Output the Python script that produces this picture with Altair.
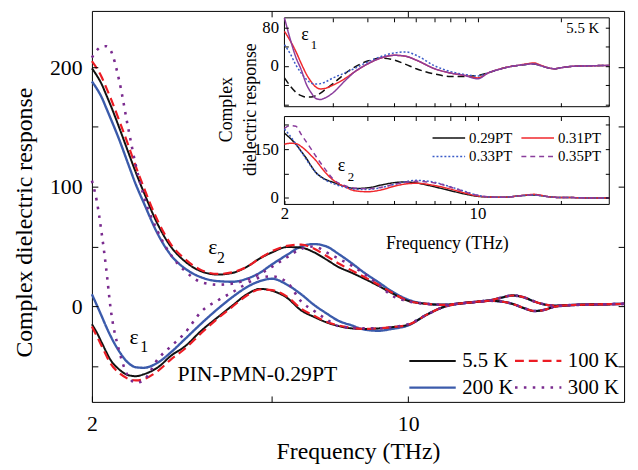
import altair as alt
import pandas as pd

FONT = "Liberation Serif, Times New Roman, Times, DejaVu Serif, serif"

# ---------------- main panel (PIN-PMN-0.29PT, four temperatures) ----------------
F_MAIN = [2.0, 2.05, 2.1, 2.15, 2.2, 2.3, 2.4, 2.5, 2.6, 2.8, 3.0, 3.2, 3.5, 3.8,
          4.1, 4.4, 4.7, 5.0, 5.4, 5.8, 6.2, 6.6, 7.0, 7.5, 8.0, 8.6, 9.2, 10.0]
F_TAIL = [11, 12, 13, 14, 15, 16, 17, 18, 19, 20, 21, 23, 26, 30]

TEMPS = ["5.5 K", "100 K", "200 K", "300 K"]

E2_5K = [199, 193, 186, 177, 168, 149, 130, 112, 96, 68, 49, 38, 29, 26.5,
         28, 33, 40, 45, 49.5, 49, 45, 39, 33, 28, 23, 17, 11, 4.5]
E1_5K = [-15, -22, -30, -38, -45, -53, -57.5, -58.5, -57, -51, -41, -34, -20, -9,
         1, 10, 14.5, 13, 7, -3.5, -9, -13.5, -16.5, -18.5, -19, -18.5, -17.5, -15.5]
E2_100K = [205, 199, 192, 183, 174, 155, 136, 117, 100, 71, 51, 40, 30, 27,
           28.5, 33, 40, 46, 50.5, 51.5, 48, 42, 36, 30, 24.5, 18, 11.5, 4.5]
E1_100K = [-17, -25, -33, -41, -48, -56, -60.5, -62, -61, -54, -44, -36, -22, -10,
           0, 9, 14, 13.5, 8, -2, -8, -13, -16, -18, -19, -18.5, -17.5, -15.5]
E2_200K = [188, 182, 175, 166, 157, 139, 120, 102, 87, 60, 42, 32, 24, 21,
           20.5, 23, 28, 35, 43, 50, 52, 50, 44, 36, 28, 20, 12.5, 5.5]
E1_200K = [10, 1, -8, -17, -25, -38, -47, -51, -51.5, -47, -38, -28, -14, -2,
           8, 16, 21, 23, 18, 10, 1, -6, -12, -16, -19.5, -20.5, -19, -16]
E2_300K = [208, 214, 217, 217.5, 214, 188, 151, 118, 93, 62, 42, 30, 20, 18,
           19, 22, 27, 33, 41, 48, 50, 45, 40, 34, 27, 18, 9, 4]
E1_300K = [105, 88, 62, 32, -2, -38, -58, -64, -62, -44, -33, -23, -4, 5,
           12, 19, 24, 25, 20, 4, -4, -11, -16.5, -18, -18.5, -18.5, -17.5, -15]

# above 10 THz all temperatures overlap
TAIL_E2 = [2, 1.2, 2.3, 3.5, 4.6, 7, 9, 7.5, 4, 1.5, 0.5, 1, 1.5, 2]
TAIL_E1 = [-7, -0.5, 2.3, 3.5, 4.6, 4, 2, -1.5, -4, -3, -0.5, 1, 1.5, 2]

MAIN_E2 = {"5.5 K": E2_5K, "100 K": E2_100K, "200 K": E2_200K, "300 K": E2_300K}
MAIN_E1 = {"5.5 K": E1_5K, "100 K": E1_100K, "200 K": E1_200K, "300 K": E1_300K}

# ---------------- inset (5.5 K, four compositions) ----------------
F_INSET = [2.0, 2.1, 2.2, 2.3, 2.4, 2.5, 2.6, 2.7, 2.8, 3.0, 3.3, 3.6, 4.0, 4.5,
           5.0, 5.5, 6.0, 7.0, 8.0, 9.0, 10]
F_INSET_TAIL = [11, 12, 13, 14, 15, 16, 17, 18, 19, 20, 22, 25, 30]
COMPS = ["0.29PT", "0.31PT", "0.33PT", "0.35PT"]

UP_29 = [-25, -42, -55, -62, -65, -65, -62, -57, -50, -37, -17, -2, 10, 16, 12, 3, -6, -17, -22, -22, -20]
UP_31 = [72, 52, 30, 5, -17, -33, -44, -48, -47, -40, -27, -12, 4, 17, 22, 20, 12, -6, -15, -20, -25]
UP_33 = [44, 25, 2, -15, -28, -36, -38, -37, -34, -25, -15, -5, 8, 20, 27, 29, 22, 0, -12, -18, -21]
UP_35 = [100, 55, 18, -8, -38, -56, -68, -70, -67, -56, -32, -12, 4, 17, 22, 20, 12, -6, -15, -20, -27]
UP_TAIL = [-14, -7, -2, 1, 3, 4, 0, -4, -6, -4, -1, 0, 1]
UP_TAIL_31 = [-14, -7, -2, 1, 4, 6, 1, -4, -6, -4, -1, 0, 1]

LO_29 = [199, 183, 165, 143, 122, 98, 78, 66, 58, 48, 36, 29, 31, 40, 47, 49, 46, 34, 22, 12, 5]
LO_31 = [165, 168, 167, 158, 145, 130, 115, 97, 80, 55, 35, 22, 19, 25, 36, 43, 45, 38, 27, 15, 6]
LO_33 = [212, 190, 166, 142, 118, 96, 78, 65, 56, 44, 33, 27, 26, 32, 42, 50, 54, 48, 34, 20, 8]
LO_35 = [214, 222, 220, 195, 172, 150, 128, 108, 90, 58, 38, 30, 28, 33, 42, 48, 51, 46, 33, 19, 8]
LO_TAIL = [3, 2, 3, 6, 8, 9, 7, 4, 2, 1, 1, 0, 0]
LO_TAIL_31 = [3, 2, 3, 6, 9, 11, 8, 4, 2, 1, 1, 0, 0]

INSET_UP = {"0.29PT": UP_29 + UP_TAIL, "0.31PT": UP_31 + UP_TAIL_31,
            "0.33PT": UP_33 + UP_TAIL, "0.35PT": UP_35 + UP_TAIL}
INSET_LO = {"0.29PT": LO_29 + LO_TAIL, "0.31PT": LO_31 + LO_TAIL_31,
            "0.33PT": LO_33 + LO_TAIL, "0.35PT": LO_35 + LO_TAIL}

# ---------------- axes domains ----------------
X_DOMAIN = [2, 30]
MAIN_Y_DOMAIN = [-80, 247]
UP_Y_DOMAIN = [-85, 100]
LO_Y_DOMAIN = [-20, 250]

# ---------------- build tables ----------------
rows = []
for t in ["200 K", "5.5 K", "100 K", "300 K"]:
    for part, table, tail in (("e2", MAIN_E2, TAIL_E2), ("e1", MAIN_E1, TAIL_E1)):
        for f, v in zip(F_MAIN + F_TAIL, table[t] + tail):
            rows.append({"f": f, "v": v, "temp": t, "part": part})
main_df = pd.DataFrame(rows)

F_IN = F_INSET + F_INSET_TAIL
up_df = pd.DataFrame([{"f": f, "v": v, "comp": c} for c in COMPS for f, v in zip(F_IN, INSET_UP[c])])
lo_df = pd.DataFrame([{"f": f, "v": v, "comp": c} for c in COMPS for f, v in zip(F_IN, INSET_LO[c])])

W, H = 539, 396
IN_X_RANGE = [195, 524]
UP_Y_RANGE = [97, 7]
LO_Y_RANGE = [196, 107]


def ax(**kw):
    base = dict(grid=False, domain=False, tickColor="black", tickWidth=1,
                labelColor="black", labelFont=FONT, titleFont=FONT,
                titleColor="black", titleFontWeight="normal",
                labelFlush=False, labelOverlap=False, zindex=1)
    base.update(kw)
    return alt.Axis(**base)


def MX():
    return alt.Scale(type="log", domain=X_DOMAIN, nice=False)


def MY():
    return alt.Scale(domain=MAIN_Y_DOMAIN, nice=False, zero=False)


def IX():
    return alt.Scale(type="log", domain=X_DOMAIN, range=IN_X_RANGE, nice=False)


def IUY():
    return alt.Scale(domain=UP_Y_DOMAIN, range=UP_Y_RANGE, nice=False, zero=False)


def ILY():
    return alt.Scale(domain=LO_Y_DOMAIN, range=LO_Y_RANGE, nice=False, zero=False)


MAIN_COLORS = ["#111111", "#ec1c24", "#3b5bab", "#7a2b8f"]
INSET_COLORS = ["#111111", "#f0282d", "#3a5bc8", "#8a3d9c"]

MAIN_LEG = alt.Legend(title=None, orient="none", legendX=320, legendY=344, columns=2,
                      direction="horizontal",
                      symbolType="stroke", symbolSize=2209, labelFont=FONT, labelFontSize=21,
                      labelColor="black", clipHeight=21, rowPadding=5, columnPadding=0,
                      labelOffset=5, padding=0)

main_lines = alt.Chart(main_df).mark_line(interpolate="monotone").encode(
    x=alt.X("f:Q", scale=MX(), axis=ax(orient="bottom", values=[2, 5, 10], format="~g",
                                        labelExpr="datum.value == 5 ? '' : datum.label",
                                        offset=-6, tickSize=6, labelPadding=12, labelFontSize=22,
                                        title="Frequency (THz)", titleFontSize=24, titlePadding=5)),
    y=alt.Y("v:Q", scale=MY(), axis=ax(orient="left", values=[-50, 0, 50, 100, 150, 200],
                                        labelExpr="datum.value % 100 == 0 ? datum.label : ''",
                                        offset=-6, tickSize=6, labelPadding=10, labelFontSize=22,
                                        title="Complex dielectric response", titleFontSize=24,
                                        titlePadding=13, titleY=214)),
    color=alt.Color("temp:O", scale=alt.Scale(domain=TEMPS, range=MAIN_COLORS), legend=MAIN_LEG),
    strokeDash=alt.StrokeDash("temp:O", scale=alt.Scale(domain=TEMPS, range=[[1, 0], [9, 5], [1, 0], [2.6, 6.4]]),
                              legend=MAIN_LEG),
    strokeWidth=alt.StrokeWidth("temp:O", scale=alt.Scale(domain=TEMPS, range=[2, 2.6, 2, 3]),
                                legend=MAIN_LEG),
    detail="part:N",
)

frame_df = pd.DataFrame({"f": [X_DOMAIN[0]], "v": [0]})
main_frame = alt.Chart(frame_df).mark_point(opacity=0).encode(
    x=alt.X("f:Q", scale=MX(), axis=ax(orient="top", values=[5, 10], labels=False,
                                        offset=-6, tickSize=6, title=None)),
    y=alt.Y("v:Q", scale=MY(), axis=ax(orient="right", values=[-50, 0, 50, 100, 150, 200],
                                        labels=False, offset=-6, tickSize=6, title=None)),
)

IXT = [3, 4, 5, 6, 7, 8, 9, 10, 20]
IXT_L = [2, 3, 4, 5, 6, 7, 8, 9, 10, 20]
UP_T = [-80, -40, 0, 40, 80]
LO_T = [0, 75, 150, 225]

up_box_df = pd.DataFrame({"x0": [X_DOMAIN[0]], "x1": [X_DOMAIN[1]],
                          "y0": [UP_Y_DOMAIN[0]], "y1": [UP_Y_DOMAIN[1]]})
lo_box_df = pd.DataFrame({"x0": [X_DOMAIN[0]], "x1": [X_DOMAIN[1]],
                          "y0": [LO_Y_DOMAIN[0]], "y1": [LO_Y_DOMAIN[1]]})

up_box = alt.Chart(up_box_df).mark_rect(fill="white", stroke="black", strokeWidth=1).encode(
    x=alt.X("x0:Q", scale=IX(), axis=ax(orient="top", values=IXT, labels=False, offset=-11,
                                         tickSize=4, title=None)),
    x2="x1:Q",
    y=alt.Y("y0:Q", scale=IUY(), axis=ax(orient="right", values=UP_T, labels=False,
                                          offset=-(W - IN_X_RANGE[1]) - 4, tickSize=4, title=None)),
    y2="y1:Q",
)

up_lines = alt.Chart(up_df).mark_line(interpolate="monotone", strokeWidth=1.5).encode(
    x=alt.X("f:Q", scale=IX(), axis=ax(orient="bottom", values=IXT, labels=False,
                                        offset=-(H - UP_Y_RANGE[0]) - 4, tickSize=4, title=None)),
    y=alt.Y("v:Q", scale=IUY(), axis=ax(orient="left", values=UP_T,
                                         labelExpr="(datum.value == 0 || datum.value == 80) ? datum.label : ''",
                                         offset=-IN_X_RANGE[0] - 4, tickSize=4, labelPadding=6,
                                         labelFontSize=17, title=None)),
    color=alt.Color("comp:N", scale=alt.Scale(domain=COMPS, range=INSET_COLORS), legend=None),
    strokeDash=alt.StrokeDash("comp:N", scale=alt.Scale(domain=COMPS, range=[[7, 4], [1, 0], [2, 2], [1, 0]]),
                              legend=None),
)

lo_box = alt.Chart(lo_box_df).mark_rect(fill="white", stroke="black", strokeWidth=1).encode(
    x=alt.X("x0:Q", scale=IX(), axis=ax(orient="top", values=IXT, labels=False,
                                         offset=-(LO_Y_RANGE[1] + 4), tickSize=4, title=None)),
    x2="x1:Q",
    y=alt.Y("y0:Q", scale=ILY(), axis=ax(orient="right", values=LO_T, labels=False,
                                          offset=-(W - IN_X_RANGE[1]) - 4, tickSize=4, title=None)),
    y2="y1:Q",
)

IN_LEG = alt.Legend(title=None, orient="none", legendX=344, legendY=121, columns=2,
                    direction="horizontal",
                    symbolType="stroke", symbolSize=1089, symbolStrokeWidth=1.5, labelFont=FONT,
                    labelFontSize=15, labelColor="black", clipHeight=15, rowPadding=3,
                    columnPadding=8, labelOffset=3, padding=0)

lo_lines = alt.Chart(lo_df).mark_line(interpolate="monotone", strokeWidth=1.5).encode(
    x=alt.X("f:Q", scale=IX(), axis=ax(orient="bottom", values=IXT_L, format="~g",
                                        labelExpr="(datum.value == 2 || datum.value == 10) ? datum.label : ''",
                                        offset=-(H - LO_Y_RANGE[0]) - 4, tickSize=4, labelPadding=1,
                                        labelFontSize=17, title="Frequency (THz)", titleFontSize=18,
                                        titlePadding=14)),
    y=alt.Y("v:Q", scale=ILY(), axis=ax(orient="left", values=LO_T,
                                         labelExpr="(datum.value == 0 || datum.value == 150) ? datum.label : ''",
                                         offset=-IN_X_RANGE[0] - 4, tickSize=4, labelPadding=6,
                                         labelFontSize=17, title=None)),
    color=alt.Color("comp:N", scale=alt.Scale(domain=COMPS, range=INSET_COLORS), legend=IN_LEG),
    strokeDash=alt.StrokeDash("comp:N", scale=alt.Scale(domain=COMPS, range=[[1, 0], [1, 0], [2, 2], [5, 4]]),
                              legend=IN_LEG),
)

# ---------------- annotations ----------------
main_big = pd.DataFrame({"f": [2.421, 3.615, 3.09], "v": [-31.3, 43.8, -62.7],
                         "label": ["ε", "ε", "PIN-PMN-0.29PT"]})
main_sub = pd.DataFrame({"f": [2.558, 3.782], "v": [-37.9, 36.4], "label": ["1", "2"]})


def txt(df, xs, ys, size, align="left"):
    return alt.Chart(df).mark_text(font=FONT, fontSize=size, align=align, baseline="alphabetic",
                                   color="black").encode(
        x=alt.X("f:Q", scale=xs, axis=None),
        y=alt.Y("v:Q", scale=ys, axis=None),
        text="label:N",
    )


t_main_big = txt(main_big, MX(), MY(), 22)
t_main_sub = txt(main_sub, MX(), MY(), 16)
t_up_eps = txt(pd.DataFrame({"f": [2.30], "v": [54.8], "label": ["ε"]}), IX(), IUY(), 18)
t_up_sub = txt(pd.DataFrame({"f": [2.49], "v": [34.2], "label": ["1"]}), IX(), IUY(), 13)
t_up_temp = txt(pd.DataFrame({"f": [27.6], "v": [69.2], "label": ["5.5 K"]}), IX(), IUY(), 15, "right")
t_lo_eps = txt(pd.DataFrame({"f": [3.12], "v": [83.1], "label": ["ε"]}), IX(), ILY(), 18)
t_lo_sub = txt(pd.DataFrame({"f": [3.39], "v": [52.8], "label": ["2"]}), IX(), ILY(), 13)

inset_title = alt.Chart(pd.DataFrame({"a": [0]})).mark_text(
    font=FONT, fontSize=18, angle=270, lineBreak="\n", lineHeight=24,
    align="center", baseline="middle", color="black").encode(
    x=alt.value(137), y=alt.value(100), text=alt.value("Complex\ndielectric response"))

chart = alt.layer(
    main_lines, main_frame, t_main_big, t_main_sub,
    up_box, up_lines, lo_box, lo_lines,
    t_up_eps, t_up_sub, t_up_temp, t_lo_eps, t_lo_sub, inset_title,
).resolve_scale(
    x="independent", y="independent", color="independent",
    strokeDash="independent", strokeWidth="independent",
).resolve_axis(
    x="independent", y="independent",
).resolve_legend(
    color="independent", strokeDash="independent", strokeWidth="independent",
).properties(
    width=W, height=H,
    autosize=alt.AutoSizeParams(type="none"),
    padding={"left": 85, "top": 0, "right": 6, "bottom": 64},
).configure_view(stroke="black", strokeWidth=1)

chart.save("out.html", embed_options={"renderer": "svg", "actions": False})
